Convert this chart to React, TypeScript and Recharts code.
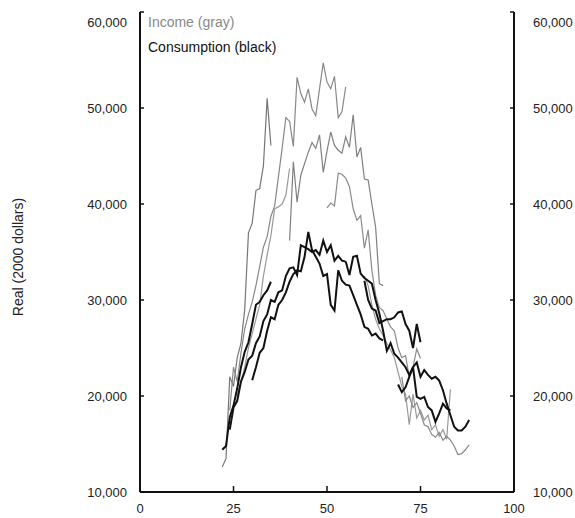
import { LineChart, Line, XAxis, YAxis } from "recharts";

const AGE_TICKS = [0, 25, 50, 75, 100];
const VALUE_TICKS = [10000, 20000, 30000, 40000, 50000, 60000];

// income by cohort (gray); one value per year of age, starting at the age given below
const incomeA = [12600, 13500, 22000, 21000, 24000, 25500, 29000, 37000, 38000, 41400, 41600, 44000, 51000, 46100];
const incomeB = [18500, 23000, 21500, 24500, 27000, 28500, 29800, 31500, 33500, 35500, 36600, 38700, 39800, 42800, 45800, 49000, 48600, 46000, 53200, 51500, 50600, 52000, 49900, 49200, 52000, 54700, 52700, 52000, 53300, 49000, 49600, 52200];
const incomeX = [20000, 21500, 23000, 25000, 26500, 28000, 29500, 32500, 34700, 36700, 39500, 39700, 40000, 40900, 43700];
const incomeC = [36200, 44400, 40200, 43000, 44200, 45400, 46400, 45800, 47200, 43300, 45500, 47500, 46100, 45600, 45300, 47000, 45900, 49300, 44900, 45900, 42600, 42500, 40000, 37600, 31700, 31500];
const incomeD = [39600, 40100, 39800, 43200, 43100, 42700, 41800, 39500, 38300, 38800, 35400, 37300, 33100, 30500, 29200, 28900, 28000, 27200, 26800, 25000, 24000, 24200, 22000, 23000, 24900, 23900];
const incomeE = [32500, 31500, 29500, 28000, 27000, 26300, 25500, 24800, 24000, 22500, 21000, 20200, 17000, 20200, 17700, 18500, 17500, 18000, 16500, 17000, 15800, 16500, 15500, 20700];
const incomeF = [22000, 19500, 20000, 18800, 19300, 18200, 17000, 16800, 16000, 15700, 16200, 15400, 15800, 15400, 14800, 13900, 14000, 14400, 14900];

// consumption by cohort (black)
const consA = [14400, 14800, 17800, 19000, 20800, 23000, 24600, 25600, 27500, 29500, 29800, 30500, 31000, 31900];
const consC = [16500, 18800, 19500, 21500, 22500, 23800, 24200, 25500, 26200, 27800, 28500, 30000, 29800, 30800, 31000, 32500, 33300, 33400, 32600, 35700, 35500, 35300, 35000, 35200, 34700, 36200, 35000, 35700, 34100, 34600, 34100, 34000];
const consB = [21650, 23000, 24500, 25000, 26800, 28200, 28000, 29500, 30000, 30800, 31900, 32700, 33100, 33000, 34500, 37100, 35200, 34500, 33800, 32500, 32700, 29500, 28900, 33100, 32000, 31600, 31500, 30500, 29500, 28500, 27200, 27000, 26300, 26500, 26000, 25800];
const consD = [32000, 30000, 29100, 28900, 27600, 27800, 28000, 28000, 28200, 28700, 28800, 27500, 26800, 25000, 27500, 25600];
const consE = [21200, 20400, 20900, 22000, 23000, 19900, 19700, 19900, 18850, 18500, 17300, 18200, 19200, 18700, 18500];
const consF = [34000, 32600, 34500, 34600, 32750, 32300, 32000, 31700, 30000, 28600, 26800, 24700, 25500, 24400, 24000, 23500, 23000, 22200, 23000, 23500, 22000, 22700, 22200, 21800, 22000, 21600, 20600, 19200, 18000, 16800, 16400, 16400, 16800, 17500];

const toPoints = (start: number, values: number[]) =>
  values.map((value, i) => ({ age: start + i, value }));

const series = [
  { id: "inc-a", start: 22, values: incomeA, color: "#777", width: 1.2 },
  { id: "inc-b", start: 24, values: incomeB, color: "#888", width: 1.2 },
  { id: "inc-x", start: 26, values: incomeX, color: "#999", width: 1.2 },
  { id: "inc-c", start: 40, values: incomeC, color: "#808080", width: 1.2 },
  { id: "inc-d", start: 50, values: incomeD, color: "#8a8a8a", width: 1.2 },
  { id: "inc-e", start: 60, values: incomeE, color: "#999", width: 1.2 },
  { id: "inc-f", start: 70, values: incomeF, color: "#888", width: 1.2 },
  { id: "con-a", start: 22, values: consA, color: "#111", width: 2 },
  { id: "con-c", start: 24, values: consC, color: "#111", width: 2 },
  { id: "con-b", start: 30, values: consB, color: "#111", width: 2 },
  { id: "con-d", start: 60, values: consD, color: "#111", width: 2 },
  { id: "con-e", start: 69, values: consE, color: "#111", width: 2 },
  { id: "con-f", start: 55, values: consF, color: "#111", width: 2 },
];

const FONT = "'Liberation Sans', Arial, Helvetica, sans-serif";
const fmt = (v: number) => v.toLocaleString("en-US");

function LeftTick({ x, y, payload }: any) {
  const shift = payload.value === 60000 ? 10 : 0;
  return (
    <g>
      <line x1={x + 13} x2={x + 17} y1={y} y2={y} stroke="#111" strokeWidth={1.5} />
      <text x={x} y={y + shift} dy="0.36em" textAnchor="end" fontSize={13} fontFamily={FONT} fill="#222">
        {fmt(payload.value)}
      </text>
    </g>
  );
}

function RightTick({ x, y, payload }: any) {
  const shift = payload.value === 60000 ? 10 : 0;
  return (
    <g>
      <line x1={x - 19} x2={x - 23} y1={y} y2={y} stroke="#111" strokeWidth={1.5} />
      <text x={x} y={y + shift} dy="0.36em" textAnchor="start" fontSize={13} fontFamily={FONT} fill="#222">
        {fmt(payload.value)}
      </text>
    </g>
  );
}

function BottomTick({ x, y, payload }: any) {
  const inner = payload.value > 0 && payload.value < 100;
  return (
    <g>
      {inner && <line x1={x} x2={x} y1={y - 21} y2={y - 27} stroke="#111" strokeWidth={1.5} />}
      <text x={x} y={y} textAnchor="middle" fontSize={13} fontFamily={FONT} fill="#222">
        {payload.value}
      </text>
    </g>
  );
}

export default function App() {
  return (
    <div style={{ position: "absolute", left: 0, top: 0, width: 575, height: 518, background: "#fff", fontFamily: FONT }}>
      <LineChart width={575} height={518} margin={{ top: 12, right: 0, bottom: 0, left: 0 }}>
        <XAxis
          dataKey="age"
          type="number"
          domain={[0, 100]}
          ticks={AGE_TICKS}
          interval={0}
          height={26}
          tickSize={0}
          tickMargin={21}
          tickLine={false}
          axisLine={{ stroke: "#111", strokeWidth: 2 }}
          tick={<BottomTick />}
          allowDataOverflow
        />
        <YAxis
          yAxisId="left"
          type="number"
          domain={[10000, 60000]}
          ticks={VALUE_TICKS}
          interval={0}
          width={140}
          tickSize={0}
          tickMargin={13}
          tickLine={false}
          axisLine={{ stroke: "#111", strokeWidth: 2 }}
          tick={<LeftTick />}
          allowDataOverflow
        />
        <YAxis
          yAxisId="right"
          orientation="right"
          type="number"
          domain={[10000, 60000]}
          ticks={VALUE_TICKS}
          interval={0}
          width={61}
          tickSize={0}
          tickMargin={19}
          tickLine={false}
          axisLine={{ stroke: "#111", strokeWidth: 2 }}
          tick={<RightTick />}
          allowDataOverflow
        />
        {series.map((s) => (
          <Line
            key={s.id}
            yAxisId="left"
            data={toPoints(s.start, s.values)}
            dataKey="value"
            type="linear"
            stroke={s.color}
            strokeWidth={s.width}
            dot={false}
            activeDot={false}
            isAnimationActive={false}
          />
        ))}
      </LineChart>
      <div style={{ position: "absolute", left: 148, top: 14, fontSize: 14, color: "#888", whiteSpace: "nowrap" }}>
        Income (gray)
      </div>
      <div style={{ position: "absolute", left: 148, top: 39, fontSize: 14, color: "#111", whiteSpace: "nowrap" }}>
        Consumption (black)
      </div>
      <div
        style={{
          position: "absolute",
          left: 18,
          top: 257,
          transform: "translate(-50%, -50%) rotate(-90deg)",
          fontSize: 14,
          color: "#222",
          whiteSpace: "nowrap",
        }}
      >
        Real (2000 dollars)
      </div>
    </div>
  );
}
